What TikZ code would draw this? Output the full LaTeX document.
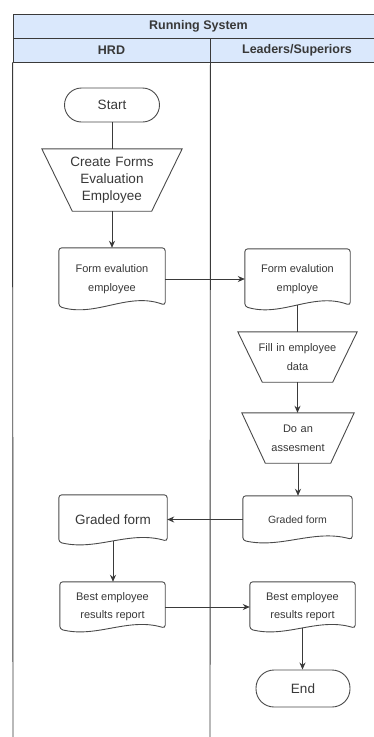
\documentclass[tikz,border=0pt]{standalone}
\usepackage{fontspec}
\setmainfont{Liberation Sans}
\usetikzlibrary{arrows.meta,calc}
\definecolor{linec}{HTML}{3A3A3A}
\definecolor{shapec}{HTML}{4A4A4A}
\definecolor{txtc}{HTML}{383838}
\definecolor{headfill}{HTML}{DAE8FC}
\newcommand\bigtxt{\fontsize{13.5}{17}\selectfont}
\newcommand\smalltxt{\fontsize{11}{19}\selectfont}
\newcommand\headtxt{\bfseries\fontsize{12.5}{15}\selectfont}
\newcommand\docshape[1]{%
  \draw[shapeln, rounded corners=3pt] let \p1=(#1.south west), \p2=(#1.north east), \n1={\x2-\x1}, \n2={\y2-\y1} in
  (\x2,{\y1+0.08*\n2}) .. controls ({\x1+0.65*\n1},{\y1+0.30*\n2}) and ({\x1+0.35*\n1},{\y1-0.12*\n2}) .. coordinate[pos=0.5] (#1-b) (\x1,{\y1+0.06*\n2}) -- (\x1,\y2) -- (\x2,\y2) -- cycle;}
\newcommand\trapshape[2]{%
  \draw[shapeln] (#1.north west) -- (#1.north east) -- ([xshift=-#2]#1.south east) -- ([xshift=#2]#1.south west) -- cycle;}
\tikzset{
  shapeln/.style={draw=shapec, line width=0.9pt},
  lane/.style={draw=linec, line width=0.9pt},
  head/.style={draw=linec, line width=0.9pt, fill=headfill, inner sep=0pt, font=\headtxt, text=txtc},
  term/.style={shapeln, rounded corners=17pt, inner sep=0pt, font=\bigtxt, text=txtc},
  tbox/.style={inner sep=0pt, align=center, text=txtc},
  dbox/.style={inner sep=0pt, align=center, text=txtc, font=\smalltxt},
  conn/.style={draw=linec, line width=0.9pt},
  arr/.style={conn, -{Stealth[length=7pt,width=6pt]}}
}
\begin{document}
\begin{tikzpicture}[x=1pt,y=-1pt]
\clip (0,0) rectangle (374,737);
\fill[white] (0,0) rectangle (374,737);
% header
\node[head, minimum width=371pt, minimum height=24pt] (title) at (198.5,26) {Running System};
\node[head, minimum width=197pt, minimum height=24pt] (hrd) at (111.5,50) {HRD};
\node[head, minimum width=174pt, minimum height=24pt] (lead) at (297,50) {Leaders/Superiors};
\coordinate (lbot) at (13,737);
\coordinate (mbot) at (210,737);
\draw[lane] (hrd.south west) -- (lbot);
\draw[lane] (hrd.south east) -- (mbot);
% HRD lane
\node[term, minimum width=95pt, minimum height=34pt] (start) at (112,105) {Start};
\node[tbox, font=\bigtxt, minimum width=140pt, minimum height=62pt, text width=130pt] (create) at (112,180) {Create Forms\\Evaluation\\Employee};
\trapshape{create}{30.5pt}
\node[dbox, minimum width=106pt, minimum height=62pt] (hdoc) at (112,279) {Form evalution\\employee};
\docshape{hdoc}
% Leaders lane
\node[dbox, minimum width=105pt, minimum height=61pt] (ldoc) at (297.5,279.5) {Form evalution\\employe};
\docshape{ldoc}
\node[tbox, font=\smalltxt, minimum width=119pt, minimum height=50pt, text width=110pt] (fill) at (297.5,357) {Fill in employee\\data};
\trapshape{fill}{24.5pt}
\node[tbox, font=\smalltxt, minimum width=112pt, minimum height=50pt, text width=100pt] (assess) at (298,438) {Do an\\assesment};
\trapshape{assess}{23.5pt}
\node[dbox, font=\fontsize{10.5}{13}\selectfont, minimum width=109pt, minimum height=47pt] (lgraded) at (297.5,519.5) {Graded form};
\docshape{lgraded}
\node[dbox, font=\bigtxt, minimum width=108pt, minimum height=50pt] (hgraded) at (113,520) {Graded form};
\docshape{hgraded}
\node[dbox, font=\fontsize{11}{18}\selectfont, minimum width=105pt, minimum height=50pt] (hbest) at (112.5,607) {Best employee\\results report};
\docshape{hbest}
\node[dbox, font=\fontsize{11}{18}\selectfont, minimum width=105pt, minimum height=50pt] (lbest) at (302.5,607) {Best employee\\results report};
\docshape{lbest}
\node[term, minimum width=94pt, minimum height=37pt, rounded corners=18pt] (end) at (303,688.5) {End};
% connectors
\draw[conn] (start.south) -- (create.north);
\draw[arr] (create.south) -- (hdoc.north);
\draw[arr] (hdoc.east) -- (hdoc.east -| ldoc.west);
\draw[conn] (ldoc-b) -- (ldoc-b |- fill.north);
\draw[arr] (fill.south) -- (fill.south |- assess.north);
\draw[arr] (assess.south) -- (assess.south |- lgraded.north);
\draw[arr] (lgraded.west) -- (lgraded.west -| hgraded.east);
\draw[arr] (hgraded-b) -- (hgraded-b |- hbest.north);
\draw[arr] (hbest.east) -- (hbest.east -| lbest.west);
\draw[arr] (lbest-b) -- (lbest-b |- end.north);
\end{tikzpicture}
\end{document}
